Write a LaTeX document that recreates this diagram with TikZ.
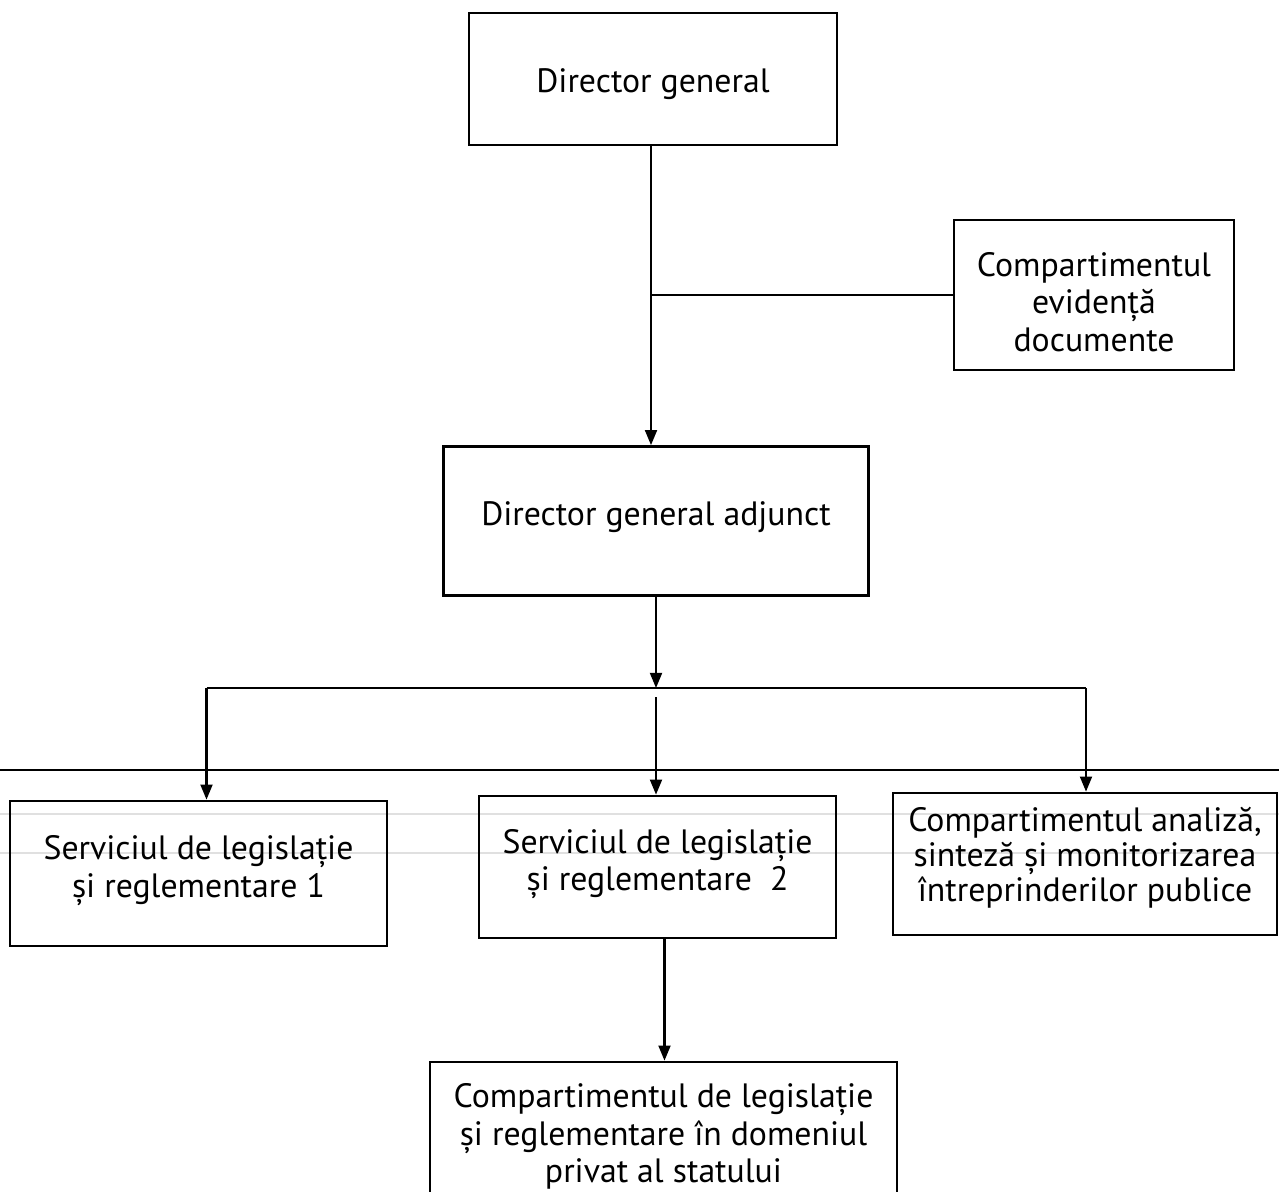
\documentclass[tikz,border=0pt]{standalone}
\usepackage{fontspec}
\setmainfont{PT Sans}
\usetikzlibrary{arrows.meta, positioning, calc}

\begin{document}
\begin{tikzpicture}[x=0.01cm, y=-0.01cm,
    box/.style={draw, line width=0.75pt, align=center, inner sep=0pt,
      font=\fontsize{9.6}{10.6}\selectfont},
    arr/.style={line width=0.6pt, -{Triangle[length=4.3pt, width=3.4pt]}},
    link/.style={line width=0.6pt}]
  \useasboundingbox (0,0) rectangle (1279,1191);
  \clip (0,0) rectangle (1279,1191);
  % scan lines across the page
  \draw[line width=0.6pt] (0,770) -- (1279,770);
  \draw[black!12, line width=0.3pt] (0,814) -- (1279,814);
  \draw[black!12, line width=0.3pt] (0,853) -- (1279,853);
  % boxes
  \node[box, minimum width=3.68cm, minimum height=1.32cm, text height=9.5pt] (dg) at (653,79)
    {Director general};
  \node[box, minimum width=2.80cm, minimum height=1.50cm, text height=32pt] (ev) at (1094,295)
    {Compartimentul\\ evidență\\ documente};
  \node[box, minimum width=4.25cm, minimum height=1.49cm, text depth=4.5pt] (dga) at (656,521)
    {Director general adjunct};
  \node[box, minimum width=3.77cm, minimum height=1.45cm, text depth=4pt] (s1) at (198.5,873.5)
    {Serviciul de legislație\\ și reglementare 1};
  \node[box, minimum width=3.57cm, minimum height=1.42cm, text depth=4pt] (s2) at (657.5,867)
    {Serviciul de legislație\\ și reglementare~~2};
  \node[box, minimum width=3.84cm, minimum height=1.42cm, text depth=5.5pt,
    font=\fontsize{9.6}{9.9}\selectfont] (s3) at (1085,864)
    {Compartimentul analiză,\\ sinteză și monitorizarea\\ întreprinderilor publice};
  \node[box, minimum width=4.67cm, minimum height=1.60cm, text depth=5pt] (pr) at (663.5,1142)
    {Compartimentul de legislație\\ și reglementare în domeniul\\ privat al statului};
  % connectors
  \coordinate (bar) at (656,688);
  \draw[arr] ($(dg.south)+(-2,0)$) -- ($(dg.south |- dga.north)+(-2,0)$);
  \draw[link] ($(dg.south |- ev.west)+(-2,0)$) -- (ev.west);
  \draw[arr] (dga.south) -- (bar);
  \draw[link] ($(s1.north |- bar)+(8,0)$) -- ($(s3.north |- bar)+(1,0)$);
  \draw[arr] ($(s1.north |- bar)+(8,0)$) -- ($(s1.north)+(8,0)$);
  \draw[arr] ($(bar)+(0,9)$) -- (bar |- s2.north);
  \draw[arr] ($(s3.north |- bar)+(1,0)$) -- ($(s3.north)+(1,0)$);
  \draw[arr] ($(s2.south)+(7,0)$) -- ($(s2.south |- pr.north)+(7,0)$);
\end{tikzpicture}
\end{document}
